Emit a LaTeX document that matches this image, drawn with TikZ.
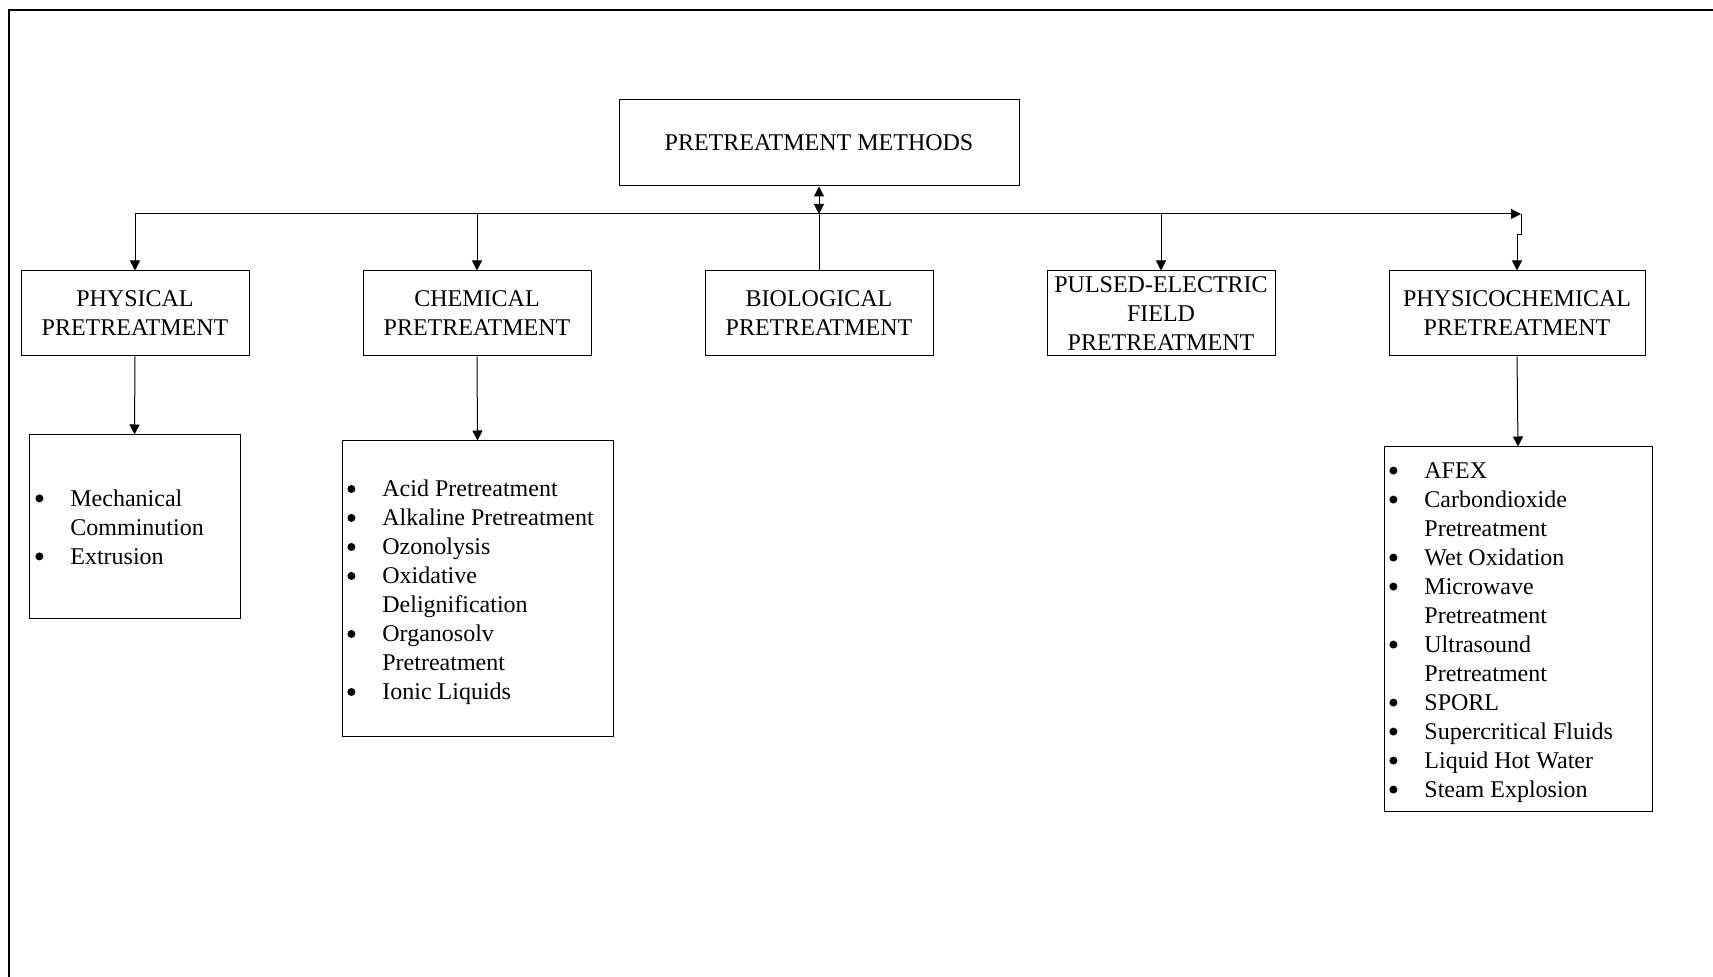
\documentclass[tikz,border=0pt]{standalone}
\usepackage{fontspec}
\setmainfont{Liberation Serif}
\usetikzlibrary{arrows.meta}
\newcommand{\lbul}{\makebox[17.5pt][l]{\tikz[baseline=0pt]\fill (2pt,3.9pt) circle[radius=2pt];}}
\newcommand{\lind}{\hspace*{17.5pt}}
\begin{document}
\begin{tikzpicture}[x=0.5pt,y=-0.5pt,
  ln/.style={line width=0.5pt},
  box/.style={draw,ln,inner sep=0pt,align=center,font=\fontsize{12}{14.5}\selectfont},
  lbox/.style={draw,ln,inner sep=0pt},
  lst/.style={inner sep=0pt,align=left,anchor=west,font=\fontsize{12}{14.5}\selectfont},
  arr/.style={-{Triangle[length=5pt,width=5pt]}},
  darr/.style={{Triangle[length=5pt,width=5pt]}-{Triangle[length=5pt,width=5pt]}}]
\useasboundingbox (0,0) rectangle (1713,977);
\draw[line width=0.9pt] (9,977) -- (9,10) -- (1713,10);

\node[box,minimum width=200pt,minimum height=43pt] (main) at (819,143) {PRETREATMENT METHODS};
\node[box,minimum width=114pt,minimum height=42.5pt] (phys) at (135,313.5) {PHYSICAL\\PRETREATMENT};
\node[box,minimum width=114pt,minimum height=42.5pt] (chem) at (477,313.5) {CHEMICAL\\PRETREATMENT};
\node[box,minimum width=114pt,minimum height=42.5pt] (bio) at (819,313.5) {BIOLOGICAL\\PRETREATMENT};
\node[box,minimum width=114pt,minimum height=42.5pt] (pef) at (1161,313.5) {PULSED-ELECTRIC\\FIELD\\PRETREATMENT};
\node[box,minimum width=128pt,minimum height=42.5pt] (phc) at (1517,313.5) {PHYSICOCHEMICAL\\PRETREATMENT};

\node[lbox,minimum width=105.5pt,minimum height=92pt] (physL) at (134.5,527) {};
\node[lst] (physT) at (35,527) {\lbul Mechanical\\\lind Comminution\\\lbul Extrusion};

\node[lbox,minimum width=135.5pt,minimum height=148pt] (chemL) at (477.5,589) {};
\node[lst] (chemT) at (347,592.5) {\lbul Acid Pretreatment\\\lbul Alkaline Pretreatment\\\lbul Ozonolysis\\\lbul Oxidative\\\lind Delignification\\\lbul Organosolv\\\lind Pretreatment\\\lbul Ionic Liquids};

\node[lbox,minimum width=134pt,minimum height=182pt] (phcL) at (1518,629) {};
\node[lst] (phcT) at (1389,632.5) {\lbul AFEX\\\lbul Carbondioxide\\\lind Pretreatment\\\lbul Wet Oxidation\\\lbul Microwave\\\lind Pretreatment\\\lbul Ultrasound\\\lind Pretreatment\\\lbul SPORL\\\lbul Supercritical Fluids\\\lbul Liquid Hot Water\\\lbul Steam Explosion};

\coordinate (bus) at (819,214);
\coordinate (busR) at (1521,214);
\draw[ln,arr] (phys.north|-bus) -- (busR);
\draw[ln,arr] (phys.north|-bus) -- (phys.north);
\draw[ln,arr] (chem.north|-bus) -- (chem.north);
\draw[ln,arr] (pef.north|-bus) -- (pef.north);
\draw[ln,darr] (bus) -- (main.south);
\draw[ln] (bio.north) -- (bus);
\draw[ln,arr] (busR) -- ++(0,21) -| (phc.north);

\draw[ln,arr] (phys.south) -- (physL.north);
\draw[ln,arr] (chem.south) -- (chemL.north);
\draw[ln,arr] (phc.south) -- (phcL.north);
\end{tikzpicture}
\end{document}
